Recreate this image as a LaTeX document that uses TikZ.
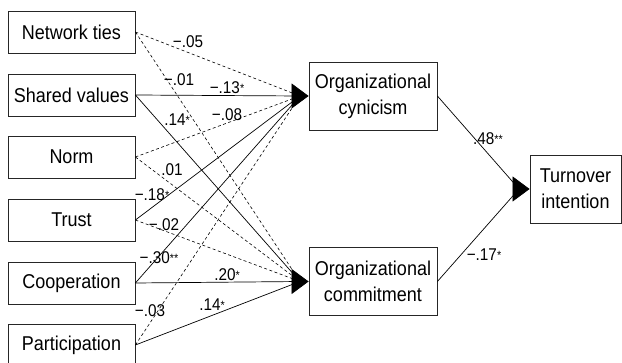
\documentclass[tikz,border=0pt]{standalone}
\usepackage{fontspec}
\setmainfont[FakeStretch=0.9]{Liberation Sans}
\usetikzlibrary{arrows.meta}
\newcommand{\sg}{\raisebox{1pt}{\fontsize{12}{12}\selectfont *}}
\newcommand{\ssg}{\raisebox{1pt}{\fontsize{12}{12}\selectfont **}}
\tikzset{
  var/.style={draw=black!85,line width=.8pt,minimum width=127pt,minimum height=42pt,inner sep=0pt,font=\fontsize{20}{22}\selectfont},
  latent/.style={var,minimum width=128pt,minimum height=68pt,align=center,font=\fontsize{20}{26}\selectfont},
  sig/.style={line width=.7pt},
  ns/.style={line width=.6pt,dash pattern=on 3pt off 2.5pt},
  coef/.style={font=\fontsize{17}{17}\selectfont,inner sep=0pt},
  tip/.style={-{Triangle[length=17pt,width=25pt]},line width=.7pt}
}

\begin{document}
\begin{tikzpicture}[x=1pt,y=-1pt]
  \useasboundingbox (0,0) rectangle (622,363);

  % predictors
  \node (net) at (71.5,32) [var] {Network ties};
  \node (shv) at (71.5,95) [var] {Shared values};
  \node (nrm) at (71.5,157) [var] {Norm};
  \node (tru) at (71.5,220) [var] {Trust};
  \node (coo) at (71.5,283) [var] {Cooperation};
  \node (par) at (71.5,345) [var] {Participation};

  % mediators and outcome
  \node (cyn) at (373,96) [latent] {Organizational\\cynicism};
  \node (com) at (373,281.5) [latent] {Organizational\\commitment};
  \node (tov) at (575.5,189) [latent,minimum width=91pt] {Turnover\\intention};

  \coordinate (cynin) at (300,96);
  \coordinate (comin) at (300,281.5);
  \coordinate (tovin) at (519,189);

  \draw[ns] (net.east) to (cynin);
  \draw[ns] (net.east) to (comin);
  \draw[sig] (shv.east) to (cynin);
  \draw[sig] (shv.east) to (comin);
  \draw[ns] (nrm.east) to (cynin);
  \draw[ns] (nrm.east) to (comin);
  \draw[sig] (tru.east) to (cynin);
  \draw[ns] (tru.east) to (comin);
  \draw[sig] (coo.east) to (cynin);
  \draw[sig] (coo.east) to (comin);
  \draw[ns] (par.east) to (cynin);
  \draw[sig] (par.east) to (comin);
  \draw[sig] (cyn.east) to (tovin);
  \draw[sig] (com.east) to (tovin);

  \draw[tip] (292,96) -- (cyn.west);
  \draw[tip] (292,281.5) -- (com.west);
  \draw[tip] (513,189) -- (tov.west);

  % coefficients
  \node (b1) at (188,42) [coef] {−.05};
  \node (b2) at (179,80) [coef] {−.01};
  \node (b3) at (227,88) [coef] {−.13\sg};
  \node (b4) at (177,120) [coef] {.14\sg};
  \node (b5) at (227,115) [coef] {−.08};
  \node (b6) at (172,170) [coef] {.01};
  \node (b7) at (152,195) [coef] {−.18\sg};
  \node (b8) at (164,225) [coef] {−.02};
  \node (b9) at (159,258) [coef] {−.30\ssg};
  \node (b10) at (227,275) [coef] {.20\sg};
  \node (b11) at (150,311) [coef] {−.03};
  \node (b12) at (212,305) [coef] {.14\sg};
  \node (b13) at (488,139) [coef] {.48\ssg};
  \node (b14) at (484,255) [coef] {−.17\sg};
\end{tikzpicture}
\end{document}
